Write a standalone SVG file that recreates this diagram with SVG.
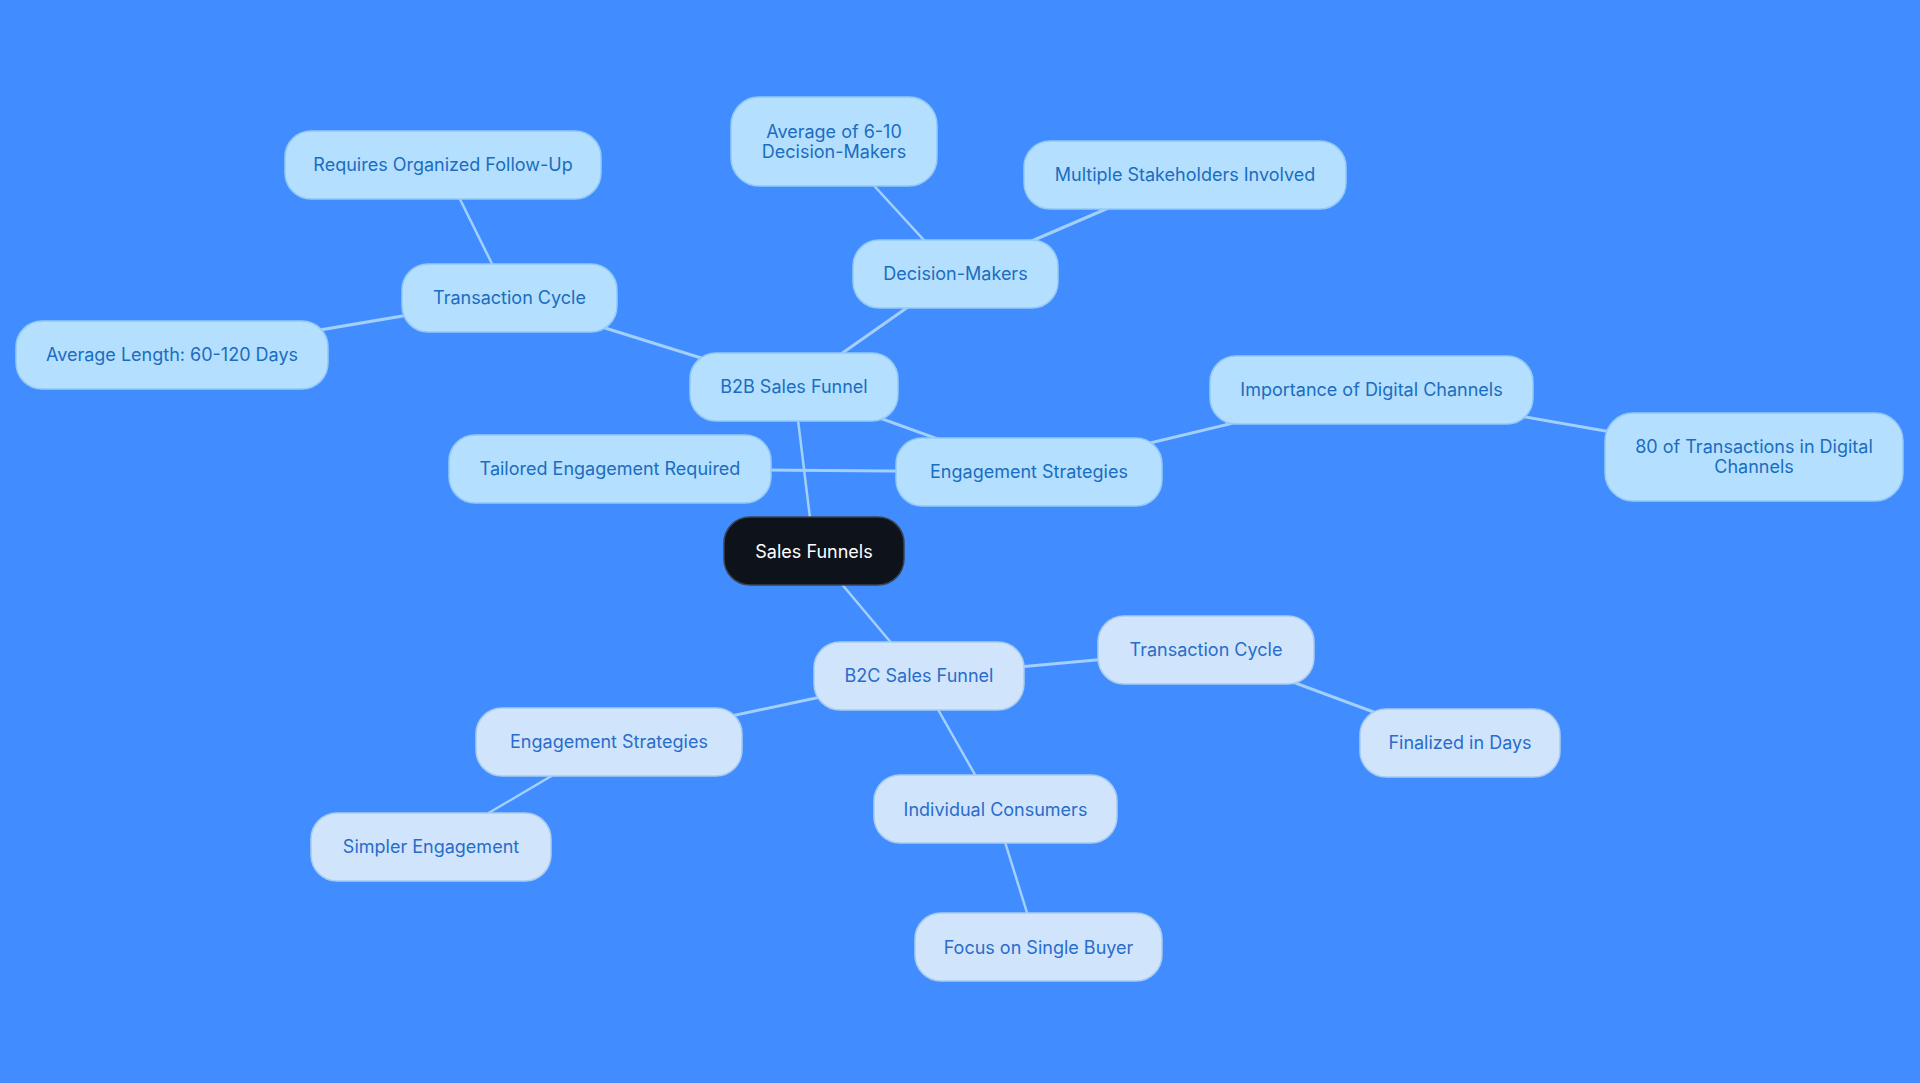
<svg xmlns="http://www.w3.org/2000/svg" width="1920" height="1083" viewBox="0 0 1920 1083">
<style>
.bg{fill:#418cff}
.edge{stroke:#a3d0fb;stroke-width:2.5;fill:none;stroke-linecap:round}
.e1{stroke-width:3}
.b2b rect{fill:#b5dfff;stroke:#93c9f6;stroke-width:1.5}
.b2c rect{fill:#d0e5fb;stroke:#a8cbf2;stroke-width:1.5}
.root rect{fill:#0d121b;stroke:#3a4352;stroke-width:1.5}
text{font-family:Inter,"Noto Sans","Liberation Sans",sans-serif;font-size:18px;text-anchor:middle;dominant-baseline:central}
.b2b text{fill:#1a6dc0}
.b2c text{fill:#2a6ccb}
.root text{fill:#ffffff}
</style>
<rect class="bg" x="0" y="0" width="1920" height="1083"/>
<g id="connectors">
<line class="edge" x1="814" y1="551" x2="794" y2="387"/>
<line class="edge" x1="814" y1="551" x2="919" y2="676"/>
<line class="edge e1" x1="794" y1="387" x2="509" y2="298"/>
<line class="edge" x1="509" y1="298" x2="443" y2="165"/>
<line class="edge e1" x1="509" y1="298" x2="172" y2="355"/>
<line class="edge e1" x1="794" y1="387" x2="955" y2="274"/>
<line class="edge" x1="955" y1="274" x2="834" y2="142"/>
<line class="edge e1" x1="955" y1="274" x2="1185" y2="175"/>
<line class="edge e1" x1="794" y1="387" x2="1029" y2="472"/>
<line class="edge e1" x1="1029" y1="472" x2="610" y2="469"/>
<line class="edge e1" x1="1029" y1="472" x2="1371" y2="390"/>
<line class="edge e1" x1="1371" y1="390" x2="1754" y2="457"/>
<line class="edge e1" x1="919" y1="676" x2="1206" y2="650"/>
<line class="edge e1" x1="1206" y1="650" x2="1460" y2="744"/>
<line class="edge e1" x1="919" y1="676" x2="609" y2="742"/>
<line class="edge" x1="609" y1="742" x2="431" y2="847"/>
<line class="edge" x1="919" y1="676" x2="995" y2="810"/>
<line class="edge" x1="995" y1="810" x2="1038" y2="948"/>
</g>
<g id="n-root" class="root"><rect x="724" y="517" width="180" height="68" rx="26"/><text x="814" y="551">Sales Funnels</text></g>
<g id="n-b2b" class="b2b"><rect x="690" y="353" width="208" height="68" rx="26"/><text x="794" y="386">B2B Sales Funnel</text></g>
<g id="n-b2b-tc" class="b2b"><rect x="402" y="264" width="215" height="68" rx="26"/><text x="509.5" y="297">Transaction Cycle</text></g>
<g id="n-b2b-tc-followup" class="b2b"><rect x="285" y="131" width="316" height="68" rx="26"/><text x="443" y="164">Requires Organized Follow-Up</text></g>
<g id="n-b2b-tc-length" class="b2b"><rect x="16" y="321" width="312" height="68" rx="26"/><text x="172" y="354">Average Length: 60-120 Days</text></g>
<g id="n-b2b-dm" class="b2b"><rect x="853" y="240" width="205" height="68" rx="26"/><text x="955.5" y="273">Decision-Makers</text></g>
<g id="n-b2b-dm-avg" class="b2b"><rect x="731" y="97" width="206" height="89" rx="28"/><text x="834" y="131">Average of 6-10</text><text x="834" y="151">Decision-Makers</text></g>
<g id="n-b2b-dm-multi" class="b2b"><rect x="1024" y="141" width="322" height="68" rx="26"/><text x="1185" y="174">Multiple Stakeholders Involved</text></g>
<g id="n-b2b-es" class="b2b"><rect x="896" y="438" width="266" height="68" rx="26"/><text x="1029" y="471">Engagement Strategies</text></g>
<g id="n-b2b-es-tailored" class="b2b"><rect x="449" y="435" width="322" height="68" rx="26"/><text x="610" y="468">Tailored Engagement Required</text></g>
<g id="n-b2b-es-digital" class="b2b"><rect x="1210" y="356" width="323" height="68" rx="26"/><text x="1371.5" y="389">Importance of Digital Channels</text></g>
<g id="n-b2b-es-digital-80" class="b2b"><rect x="1605" y="413" width="298" height="88" rx="28"/><text x="1754" y="446">80 of Transactions in Digital</text><text x="1754" y="466">Channels</text></g>
<g id="n-b2c" class="b2c"><rect x="814" y="642" width="210" height="68" rx="26"/><text x="919" y="675">B2C Sales Funnel</text></g>
<g id="n-b2c-tc" class="b2c"><rect x="1098" y="616" width="216" height="68" rx="26"/><text x="1206" y="649">Transaction Cycle</text></g>
<g id="n-b2c-tc-days" class="b2c"><rect x="1360" y="709" width="200" height="68" rx="26"/><text x="1460" y="742">Finalized in Days</text></g>
<g id="n-b2c-es" class="b2c"><rect x="476" y="708" width="266" height="68" rx="26"/><text x="609" y="741">Engagement Strategies</text></g>
<g id="n-b2c-es-simple" class="b2c"><rect x="311" y="813" width="240" height="68" rx="26"/><text x="431" y="846">Simpler Engagement</text></g>
<g id="n-b2c-ic" class="b2c"><rect x="874" y="775" width="243" height="68" rx="26"/><text x="995.5" y="809">Individual Consumers</text></g>
<g id="n-b2c-ic-focus" class="b2c"><rect x="915" y="913" width="247" height="68" rx="26"/><text x="1038.5" y="947">Focus on Single Buyer</text></g>
</svg>
